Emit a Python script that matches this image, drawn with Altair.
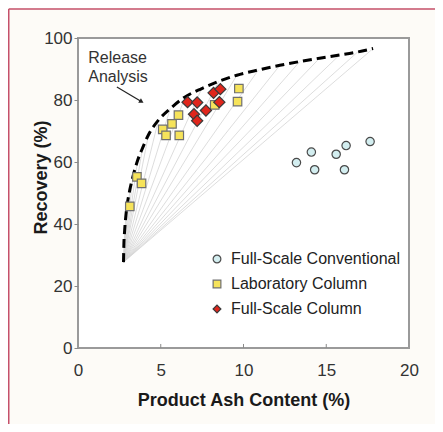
import altair as alt
import pandas as pd

# ---- data ----
series_names = ["Full-Scale Conventional", "Laboratory Column", "Full-Scale Column"]

conv_x = [13.2, 14.1, 14.3, 15.6, 16.2, 16.1, 17.65]
conv_y = [59.8, 63.2, 57.5, 62.5, 65.3, 57.5, 66.6]

lab_x = [3.13, 3.56, 3.84, 5.12, 5.32, 5.68, 6.07, 6.12, 8.26, 9.64, 9.72]
lab_y = [45.7, 55.2, 53.1, 70.5, 68.6, 72.3, 75.1, 68.6, 78.4, 79.5, 83.7]

fsc_x = [6.62, 7.2, 7.01, 7.2, 7.73, 8.19, 8.6, 8.54]
fsc_y = [79.3, 79.2, 75.4, 73.3, 76.6, 82.3, 83.5, 79.3]

curve_x = [2.75, 2.77, 2.82, 2.88, 2.98, 3.13, 3.33, 3.6, 3.9, 4.26, 4.86, 5.57,
           6.47, 7.48, 8.5, 9.6, 10.9, 12.2, 13.4, 14.6, 15.8, 16.9, 17.83]
curve_y = [27.7, 33.0, 38.0, 42.0, 46.5, 51.0, 55.5, 60.5, 64.5, 68.8, 73.5, 77.2,
           81.0, 83.7, 86.0, 88.0, 89.7, 91.2, 92.4, 93.5, 94.5, 95.5, 96.6]

fan_origin_x = 2.75
fan_origin_y = 27.7
fan_end_x = [2.82, 2.88, 2.98, 3.13, 3.33, 3.6, 3.9, 4.26, 4.86, 5.57, 6.47, 7.48,
             8.5, 9.6, 10.9, 12.2, 13.4, 14.6, 15.8, 16.9, 17.83]
fan_end_y = [38.0, 42.0, 46.5, 51.0, 55.5, 60.5, 64.5, 68.8, 73.5, 77.2, 81.0, 83.7,
             86.0, 88.0, 89.7, 91.2, 92.4, 93.5, 94.5, 95.5, 96.6]

note_lines = ["Release", "Analysis"]
note_x = [0.62, 0.62]
note_y = [93.4, 87.3]

arrow_x = [2.35, 3.8]
arrow_y = [84.2, 79.6]

x_ticks = [0, 5, 10, 15, 20]
y_ticks = [0, 20, 40, 60, 80, 100]

# ---- styles ----
fills = ["#d3eef0", "#f6e35a", "#e0261c"]
shapes = ["circle", "square", "diamond"]
sizes = [70, 72, 125]
strokes = ["#4a4a4a", "#707070", "#3a3a3a"]
FONT = "Liberation Sans"

xs = alt.Scale(domain=[0, 20], nice=False)
ys = alt.Scale(domain=[0, 100], nice=False)

xaxis = alt.Axis(title="Product Ash Content (%)", values=x_ticks, ticks=False,
                 domain=False, grid=False, labelFontSize=17, labelColor="#333333",
                 labelPadding=14, labelFlush=False, labelFont=FONT,
                 titleFont=FONT, titleFontSize=18, titleFontWeight="bold",
                 titleColor="#1a1a1a", titleY=52, titleBaseline="middle")
yaxis = alt.Axis(title="Recovery (%)", values=y_ticks, tickSize=4,
                 tickColor="#8a8a8a", tickWidth=1, domain=False, grid=False,
                 labelFontSize=17, labelColor="#333333", labelPadding=2,
                 labelFlush=False, labelFont=FONT, titleFont=FONT,
                 titleFontSize=18, titleFontWeight="bold", titleColor="#1a1a1a",
                 titleX=-37, titleY=139, titleAngle=270, titleBaseline="middle",
                 titleAlign="center")


def X(field="x"):
    return alt.X(f"{field}:Q", scale=xs, axis=xaxis)


def Y(field="y"):
    return alt.Y(f"{field}:Q", scale=ys, axis=yaxis)


# fan of thin grey lines
fan_df = pd.DataFrame({"x": [fan_origin_x] * len(fan_end_x),
                       "y": [fan_origin_y] * len(fan_end_y),
                       "x2": fan_end_x, "y2": fan_end_y})
fan = alt.Chart(fan_df).mark_rule(color="#d4d4d4", strokeWidth=0.8).encode(
    x=X(), y=Y(), x2="x2:Q", y2="y2:Q")

# release analysis dashed curve
curve_df = pd.DataFrame({"x": curve_x, "y": curve_y, "o": list(range(len(curve_x)))})
curve = alt.Chart(curve_df).mark_line(color="black", strokeWidth=3,
                                      strokeDash=[9, 5], interpolate="monotone").encode(
    x=X(), y=Y(), order="o:Q")

# inside x ticks
tick_df = pd.DataFrame({"x": [5, 10, 15], "y": [0, 0, 0], "y2": [1.3, 1.3, 1.3]})
xtick = alt.Chart(tick_df).mark_rule(color="#8a8a8a", strokeWidth=1).encode(
    x=X(), y=Y(), y2="y2:Q")

# scatter points, one layer per series (shared legend)
legend = alt.Legend(title=None, orient="none", legendX=131, legendY=213,
                    labelFontSize=16, labelColor="#222222", labelFont=FONT,
                    labelLimit=400, symbolStrokeWidth=1.2,
                    symbolSize=60, rowPadding=9, labelOffset=6, padding=0)

point_layers = []
for name, xv, yv, sz in zip(series_names, [conv_x, lab_x, fsc_x],
                            [conv_y, lab_y, fsc_y], sizes):
    df = pd.DataFrame({"x": xv, "y": yv, "series": [name] * len(xv)})
    point_layers.append(
        alt.Chart(df).mark_point(filled=True, strokeWidth=1.2,
                                 opacity=1, size=sz).encode(
            x=X(), y=Y(),
            fill=alt.Fill("series:N",
                          scale=alt.Scale(domain=series_names, range=fills),
                          legend=legend),
            shape=alt.Shape("series:N",
                            scale=alt.Scale(domain=series_names, range=shapes),
                            legend=legend),
            stroke=alt.Stroke("series:N",
                              scale=alt.Scale(domain=series_names, range=strokes),
                              legend=legend),
        )
    )

# annotation text and arrow
note_df = pd.DataFrame({"x": note_x, "y": note_y, "t": note_lines})
note = alt.Chart(note_df).mark_text(align="left", baseline="middle", fontSize=16,
                                    font=FONT, color="#333333").encode(
    x=X(), y=Y(), text="t:N")

arrow_df = pd.DataFrame({"x": [arrow_x[0]], "y": [arrow_y[0]],
                         "x2": [arrow_x[1]], "y2": [arrow_y[1]]})
arrow_line = alt.Chart(arrow_df).mark_rule(color="#222222", strokeWidth=1.2).encode(
    x=X(), y=Y(), x2="x2:Q", y2="y2:Q")
head_df = pd.DataFrame({"x": [arrow_x[1]], "y": [arrow_y[1]]})
arrow_head = alt.Chart(head_df).mark_point(shape="triangle", filled=True,
                                           color="#222222", size=28, angle=121,
                                           opacity=1).encode(x=X(), y=Y())

# decorative figure frame (red lines top / left)
deco_df = pd.DataFrame({"a": [0]})
frame_top = alt.Chart(deco_df).mark_rule(color="#c5506a", strokeWidth=1.5).encode(
    x=alt.value(-69.25), x2=alt.value(357), y=alt.value(-29))
frame_left = alt.Chart(deco_df).mark_rule(color="#c5506a", strokeWidth=1.5).encode(
    x=alt.value(-69.25), y=alt.value(-29), y2=alt.value(386))

chart = alt.layer(
    fan, curve, xtick, *point_layers, note, arrow_line, arrow_head,
    frame_top, frame_left
).properties(
    width=331, height=310,
    autosize=alt.AutoSizeParams(type="none"),
    padding={"left": 70, "top": 30, "right": 26, "bottom": 76},
    background="#fdfbf7",
).configure_view(
    stroke="#9a9a9a", strokeWidth=2, fill="white"
)

chart.save("out.html", embed_options={"renderer": "svg", "actions": False})
